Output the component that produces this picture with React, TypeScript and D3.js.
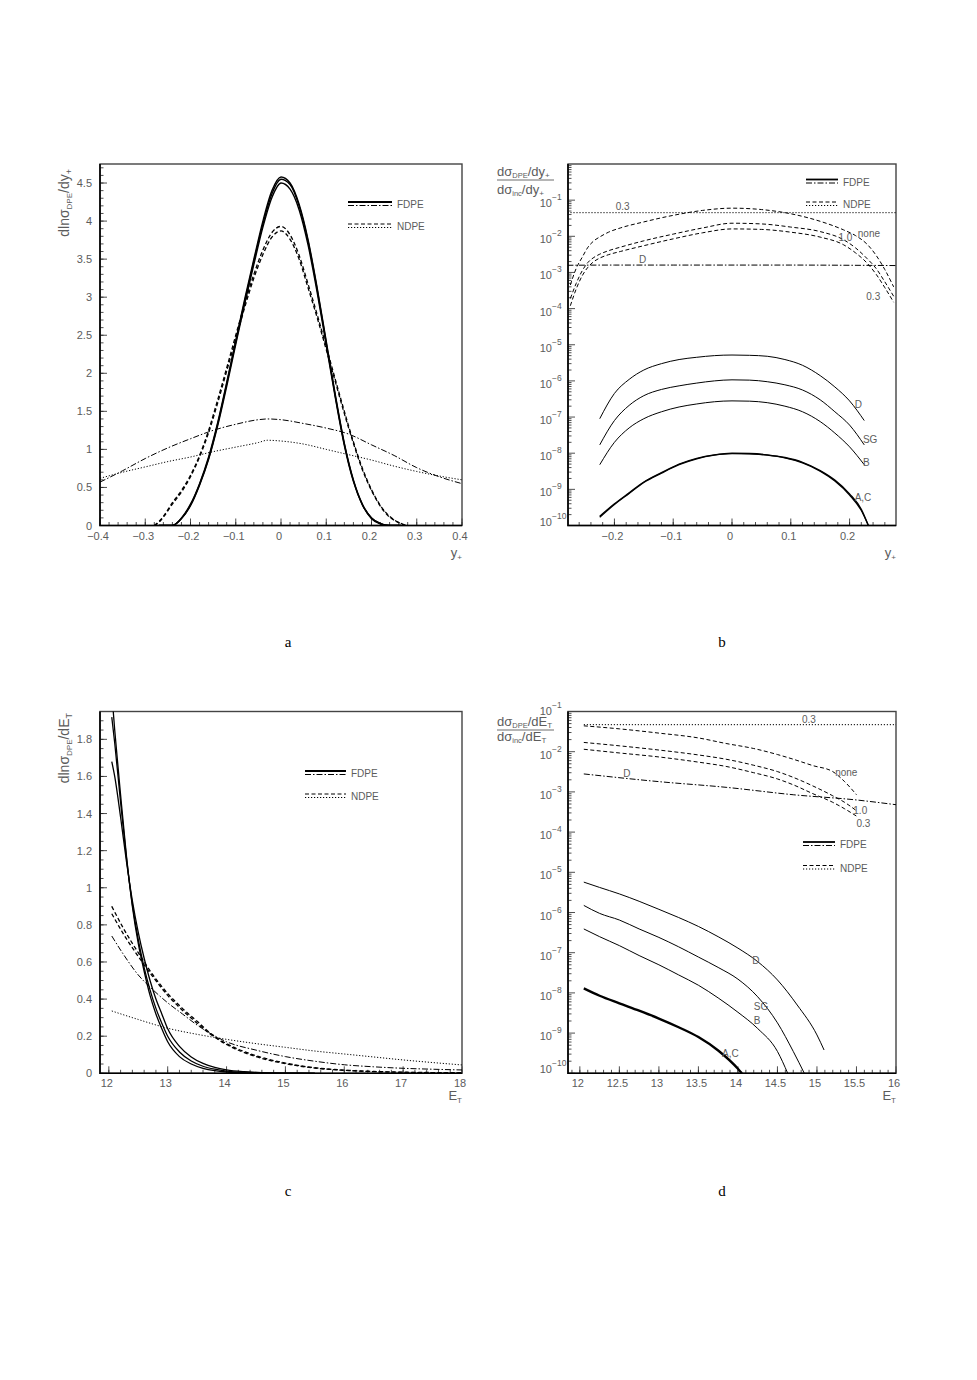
import * as d3 from "d3";
import { useEffect, useRef } from "react";

// ---------- panel a : dlnσ_DPE/dy+ against y+ ----------
const aXTicks = [-0.4, -0.3, -0.2, -0.1, 0, 0.1, 0.2, 0.3, 0.4];
const aYTicks = [0, 0.5, 1, 1.5, 2, 2.5, 3, 3.5, 4, 4.5];
const aSolidY = [-0.27, -0.24, -0.22, -0.2, -0.18, -0.16, -0.14, -0.12, -0.1, -0.08, -0.06, -0.04, -0.02, 0, 0.02, 0.04, 0.06, 0.08, 0.1, 0.12, 0.14, 0.16, 0.18, 0.2, 0.22, 0.24, 0.265];
const aFdpe1 = [0, 0, 0.1, 0.28, 0.55, 0.9, 1.35, 1.88, 2.43, 2.98, 3.5, 4.0, 4.4, 4.58, 4.5, 4.22, 3.75, 3.12, 2.42, 1.72, 1.08, 0.6, 0.28, 0.1, 0.025, 0, 0];
const aFdpe2 = [0, 0, 0.09, 0.27, 0.54, 0.88, 1.33, 1.86, 2.41, 2.95, 3.47, 3.96, 4.36, 4.55, 4.48, 4.2, 3.73, 3.1, 2.4, 1.7, 1.07, 0.59, 0.27, 0.1, 0.025, 0, 0];
const aFdpe3 = [0, 0, 0.09, 0.26, 0.53, 0.87, 1.31, 1.83, 2.38, 2.92, 3.43, 3.92, 4.31, 4.5, 4.42, 4.15, 3.68, 3.06, 2.37, 1.68, 1.05, 0.58, 0.27, 0.09, 0.02, 0, 0];
const aDashY = [-0.28, -0.27, -0.26, -0.24, -0.22, -0.2, -0.18, -0.16, -0.14, -0.12, -0.1, -0.08, -0.06, -0.04, -0.02, 0, 0.02, 0.04, 0.06, 0.08, 0.1, 0.12, 0.14, 0.16, 0.18, 0.2, 0.22, 0.24, 0.26, 0.27, 0.28];
const aNdpe1 = [0, 0.05, 0.12, 0.3, 0.46, 0.66, 0.92, 1.25, 1.65, 2.07, 2.5, 2.92, 3.3, 3.62, 3.85, 3.93, 3.82, 3.55, 3.17, 2.77, 2.35, 1.92, 1.5, 1.1, 0.75, 0.47, 0.26, 0.12, 0.04, 0.015, 0];
const aNdpe2 = [0, 0.04, 0.11, 0.28, 0.44, 0.64, 0.9, 1.22, 1.61, 2.03, 2.45, 2.87, 3.25, 3.56, 3.79, 3.87, 3.76, 3.5, 3.12, 2.73, 2.31, 1.89, 1.47, 1.08, 0.73, 0.46, 0.25, 0.11, 0.04, 0.01, 0];
const aBroadY = [-0.4, -0.35, -0.3, -0.25, -0.2, -0.15, -0.1, -0.05, -0.03, 0, 0.05, 0.1, 0.15, 0.2, 0.25, 0.3, 0.35, 0.4];
const aFdpeDD = [0.57, 0.72, 0.88, 1.02, 1.14, 1.25, 1.33, 1.39, 1.4, 1.39, 1.34, 1.28, 1.2, 1.06, 0.92, 0.76, 0.64, 0.55];
const aNdpeDot = [0.62, 0.7, 0.77, 0.84, 0.9, 0.97, 1.03, 1.09, 1.12, 1.11, 1.07, 1.0, 0.93, 0.86, 0.78, 0.71, 0.65, 0.6];

// ---------- panel b : ratio DPE / inclusive against y+ ----------
const bXTicks = [-0.2, -0.1, 0, 0.1, 0.2];
const bYExp = [-10, -9, -8, -7, -6, -5, -4, -3, -2, -1];
const bDashY = [-0.275, -0.265, -0.255, -0.245, -0.235, -0.225, -0.21, -0.19, -0.15, -0.1, -0.05, 0, 0.05, 0.1, 0.15, 0.19, 0.21, 0.23, 0.245, 0.26, 0.275];
const bNone = [4.5e-4, 1.3e-3, 2.6e-3, 5e-3, 7.5e-3, 9.6e-3, 1.3e-2, 1.7e-2, 2.5e-2, 3.8e-2, 5.2e-2, 6e-2, 5.5e-2, 4.2e-2, 2.6e-2, 1.5e-2, 1.05e-2, 6e-3, 3e-3, 1.2e-3, 4e-4];
const bOne = [1.9e-4, 5e-4, 1.1e-3, 1.9e-3, 2.6e-3, 3.2e-3, 4e-3, 5e-3, 7.5e-3, 1.15e-2, 1.7e-2, 2.3e-2, 2.2e-2, 1.8e-2, 1.35e-2, 8e-3, 4.8e-3, 2.4e-3, 1.3e-3, 5.5e-4, 2.2e-4];
const bThree = [1.2e-4, 3.5e-4, 8e-4, 1.4e-3, 2e-3, 2.5e-3, 3.1e-3, 3.8e-3, 5.5e-3, 8.5e-3, 1.25e-2, 1.6e-2, 1.55e-2, 1.3e-2, 9.5e-3, 5.8e-3, 3.5e-3, 1.8e-3, 9e-4, 3.8e-4, 1.5e-4];
const bFlatY = [-0.28, -0.2, -0.1, 0, 0.1, 0.2, 0.28];
const bDdD = [1.58e-3, 1.6e-3, 1.6e-3, 1.6e-3, 1.6e-3, 1.58e-3, 1.55e-3];
const bDot03 = [0.045, 0.045, 0.045, 0.045, 0.045, 0.045, 0.045];
const bSolidY = [-0.225, -0.2, -0.175, -0.15, -0.12, -0.09, -0.06, -0.03, 0, 0.03, 0.06, 0.09, 0.12, 0.15, 0.175, 0.2, 0.225];
const bD = [9e-8, 4.5e-7, 1.1e-6, 2e-6, 3e-6, 3.9e-6, 4.5e-6, 5e-6, 5.2e-6, 5.1e-6, 4.8e-6, 3.9e-6, 2.7e-6, 1.4e-6, 6.8e-7, 2.8e-7, 8e-8];
const bSG = [1.7e-8, 8e-8, 2.1e-7, 3.9e-7, 5.8e-7, 7.3e-7, 8.7e-7, 1e-6, 1.07e-6, 1.05e-6, 9.5e-7, 7.8e-7, 5.6e-7, 3e-7, 1.4e-7, 6e-8, 1.7e-8];
const bB = [4.8e-9, 2e-8, 5e-8, 9e-8, 1.4e-7, 1.9e-7, 2.3e-7, 2.65e-7, 2.8e-7, 2.75e-7, 2.5e-7, 2e-7, 1.4e-7, 7.5e-8, 3.6e-8, 1.5e-8, 4.8e-9];
const bAcY = [-0.225, -0.2, -0.175, -0.15, -0.12, -0.09, -0.06, -0.03, 0, 0.03, 0.06, 0.09, 0.12, 0.15, 0.175, 0.2, 0.22, 0.232];
const bA = [1.8e-10, 4e-10, 8e-10, 1.6e-9, 2.9e-9, 5e-9, 7.2e-9, 9e-9, 1e-8, 9.8e-9, 9e-9, 7.6e-9, 5.6e-9, 3.3e-9, 1.8e-9, 7.5e-10, 2.8e-10, 1e-10];
const bC = [1.7e-10, 3.8e-10, 7.7e-10, 1.55e-9, 2.8e-9, 4.8e-9, 7e-9, 8.8e-9, 9.7e-9, 9.6e-9, 8.8e-9, 7.4e-9, 5.4e-9, 3.2e-9, 1.7e-9, 7e-10, 2.6e-10, 1e-10];

// ---------- panel c : dlnσ_DPE/dE_T against E_T ----------
const cXTicks = [12, 13, 14, 15, 16, 17, 18];
const cYTicks = [0, 0.2, 0.4, 0.6, 0.8, 1, 1.2, 1.4, 1.6, 1.8];
const cSolidE = [12.05, 12.1, 12.2, 12.3, 12.4, 12.5, 12.6, 12.7, 12.8, 12.9, 13.0, 13.2, 13.4, 13.6, 13.8, 14.0, 14.3, 14.6, 15.0, 15.5];
const cFdpe1 = [2.05, 1.85, 1.5, 1.17, 0.9, 0.7, 0.55, 0.42, 0.32, 0.24, 0.17, 0.09, 0.05, 0.027, 0.014, 0.007, 0.003, 0.001, 0, 0];
const cFdpe2 = [1.92, 1.78, 1.46, 1.16, 0.91, 0.72, 0.57, 0.45, 0.35, 0.27, 0.2, 0.115, 0.066, 0.038, 0.022, 0.012, 0.005, 0.002, 0.0005, 0];
const cFdpe3 = [1.68, 1.6, 1.38, 1.14, 0.93, 0.76, 0.62, 0.5, 0.4, 0.32, 0.24, 0.145, 0.088, 0.053, 0.032, 0.019, 0.009, 0.004, 0.001, 0];
const cDashE = [12.05, 12.25, 12.5, 12.75, 13, 13.25, 13.5, 13.75, 14, 14.5, 15, 15.5, 16, 16.5, 17, 17.5, 18];
const cNdpe1 = [0.9, 0.78, 0.65, 0.53, 0.43, 0.35, 0.28, 0.21, 0.16, 0.095, 0.055, 0.03, 0.017, 0.01, 0.006, 0.004, 0.003];
const cNdpe2 = [0.86, 0.75, 0.63, 0.52, 0.42, 0.34, 0.27, 0.205, 0.155, 0.09, 0.052, 0.028, 0.016, 0.009, 0.005, 0.003, 0.002];
const cFdpeDD = [0.74, 0.64, 0.53, 0.45, 0.38, 0.32, 0.26, 0.21, 0.17, 0.125, 0.09, 0.065, 0.046, 0.035, 0.027, 0.022, 0.018];
const cDotE = [12.05, 12.5, 13, 13.5, 14, 14.5, 15, 15.5, 16, 16.5, 17, 17.5, 18];
const cNdpeDot = [0.336, 0.29, 0.243, 0.21, 0.183, 0.16, 0.14, 0.12, 0.104, 0.088, 0.072, 0.058, 0.045];

// ---------- panel d : ratio DPE / inclusive against E_T ----------
const dXTicks = [12, 12.5, 13, 13.5, 14, 14.5, 15, 15.5, 16];
const dYExp = [-10, -9, -8, -7, -6, -5, -4, -3, -2, -1];
const dDashE = [12.05, 12.5, 13, 13.5, 13.85, 14.2, 14.5, 14.7, 14.95, 15.2, 15.35, 15.5];
const dNone = [0.044, 0.037, 0.029, 0.022, 0.016, 0.012, 8.5e-3, 6.5e-3, 4.5e-3, 3.2e-3, 1.8e-3, 8.5e-4];
const dOne = [0.017, 0.014, 0.011, 8.3e-3, 6.5e-3, 4.6e-3, 3.2e-3, 2.3e-3, 1.4e-3, 8e-4, 5.5e-4, 3.4e-4];
const dThree = [0.0115, 9.3e-3, 7.4e-3, 5.5e-3, 4.3e-3, 3e-3, 2.1e-3, 1.5e-3, 9e-4, 5.5e-4, 3.8e-4, 2.5e-4];
const dFlatE = [12.05, 13, 13.85, 14.7, 15.5, 16];
const dDdD = [2.8e-3, 1.8e-3, 1.3e-3, 8.5e-4, 6.3e-4, 4.8e-4];
const dDot03 = [0.047, 0.047, 0.047, 0.047, 0.047, 0.047];
const dSolidE = [12.05, 12.25, 12.5, 12.75, 13, 13.25, 13.5, 13.75, 14, 14.25, 14.5, 14.75, 15, 15.09];
const dD = [5.7e-6, 4.2e-6, 2.9e-6, 1.9e-6, 1.2e-6, 7.5e-7, 4.5e-7, 2.5e-7, 1.3e-7, 6e-8, 2.1e-8, 5e-9, 9e-10, 3.8e-10];
const dSgE = [12.05, 12.25, 12.5, 12.75, 13, 13.25, 13.5, 13.75, 14, 14.25, 14.5, 14.7, 14.84];
const dSG = [1.5e-6, 9.5e-7, 6.5e-7, 3.9e-7, 2.4e-7, 1.4e-7, 7.8e-8, 4.3e-8, 2.2e-8, 8e-9, 1.8e-9, 3.5e-10, 1e-10];
const dBE = [12.05, 12.25, 12.5, 12.75, 13, 13.25, 13.5, 13.75, 14, 14.25, 14.5, 14.63];
const dB = [3.9e-7, 2.5e-7, 1.5e-7, 8.5e-8, 5e-8, 2.8e-8, 1.55e-8, 7.5e-9, 3.3e-9, 1.3e-9, 3.5e-10, 1e-10];
const dAcE = [12.05, 12.25, 12.5, 12.75, 13, 13.25, 13.5, 13.75, 14, 14.05];
const dAC = [1.3e-8, 8.5e-9, 5.5e-9, 3.6e-9, 2.3e-9, 1.4e-9, 8e-10, 3.7e-10, 1.3e-10, 1e-10];

const FONT = "'Liberation Sans', Arial, sans-serif";
const GREY = "#5c5c5c";
const DASH = { solid: null, dashed: "4 2.5", dashdot: "6 2 1.5 2", dotted: "1.2 1.8" };

const fmt = (v) => (v < 0 ? "\u2212" + Math.abs(v) : String(v));

function addCurve(g, clip, x, y, xs, ys, dash, w = 1) {
  const line = d3
    .line()
    .x((d, i) => x(xs[i]))
    .y((d) => y(d))
    .curve(d3.curveMonotoneX);
  g.append("path")
    .attr("d", line(ys))
    .attr("fill", "none")
    .attr("stroke", "#000")
    .attr("stroke-width", w)
    .attr("stroke-dasharray", dash)
    .attr("clip-path", `url(#${clip})`);
}

function addLabel(g, x, y, t, anchor = "start") {
  g.append("text")
    .attr("x", x)
    .attr("y", y)
    .attr("text-anchor", anchor)
    .attr("font-family", FONT)
    .attr("font-size", 10)
    .attr("fill", GREY)
    .text(t);
}

function frame(g, id, box, x, y, o) {
  const { left, top, right, bottom } = box;
  g.append("clipPath")
    .attr("id", id)
    .append("rect")
    .attr("x", left)
    .attr("y", top)
    .attr("width", right - left)
    .attr("height", bottom - top);

  const ticks = (vals, len, horiz) =>
    g
      .selectAll(null)
      .data(vals)
      .join("line")
      .attr("x1", (d) => (horiz ? x(d) : left))
      .attr("x2", (d) => (horiz ? x(d) : left + len))
      .attr("y1", (d) => (horiz ? bottom : y(d)))
      .attr("y2", (d) => (horiz ? bottom - len : y(d)))
      .attr("stroke", "#222")
      .attr("stroke-width", 0.8);

  ticks(o.xMinor, 3.5, true);
  ticks(o.xMajor, 7, true);
  ticks(o.yMinor, 3.5, false);
  ticks(o.yMajor.map((e) => (o.log ? Math.pow(10, e) : e)), 7, false);

  g.append("rect")
    .attr("x", left)
    .attr("y", top)
    .attr("width", right - left)
    .attr("height", bottom - top)
    .attr("fill", "none")
    .attr("stroke", "#444")
    .attr("stroke-width", 1.4);
  g.append("path")
    .attr("d", `M${left},${top}V${bottom}H${right}`)
    .attr("fill", "none")
    .attr("stroke", "#000")
    .attr("stroke-width", 1.6);

  g.selectAll(null)
    .data(o.xMajor)
    .join("text")
    .attr("x", (d) => x(d) - 2)
    .attr("y", bottom + 14)
    .attr("text-anchor", "middle")
    .attr("font-family", FONT)
    .attr("font-size", 11)
    .attr("fill", GREY)
    .text(fmt);

  if (o.log) {
    const n = o.yMajor.length;
    o.yMajor.forEach((e, i) => {
      let yy = y(Math.pow(10, e));
      if (i === 0) yy -= 7;
      if (i === n - 1 && o.topShift) yy -= o.topShift;
      g.append("text")
        .attr("x", left - 16)
        .attr("y", yy + 7)
        .attr("text-anchor", "end")
        .attr("font-family", FONT)
        .attr("font-size", 11)
        .attr("fill", GREY)
        .text("10");
      g.append("text")
        .attr("x", left - 16)
        .attr("y", yy)
        .attr("font-family", FONT)
        .attr("font-size", 8.5)
        .attr("fill", GREY)
        .text("\u2212" + Math.abs(e));
    });
  } else {
    g.selectAll(null)
      .data(o.yMajor)
      .join("text")
      .attr("x", left - 8)
      .attr("y", (d) => y(d) + 4)
      .attr("text-anchor", "end")
      .attr("font-family", FONT)
      .attr("font-size", 11)
      .attr("fill", GREY)
      .text(fmt);
  }
}

function legend(g, x0, x1, yTop, gap) {
  const pair = (yy, d1, w1, d2) => {
    g.append("line").attr("x1", x0).attr("x2", x1).attr("y1", yy).attr("y2", yy)
      .attr("stroke", "#000").attr("stroke-width", w1).attr("stroke-dasharray", d1);
    g.append("line").attr("x1", x0).attr("x2", x1).attr("y1", yy + 3.5).attr("y2", yy + 3.5)
      .attr("stroke", "#000").attr("stroke-width", 1).attr("stroke-dasharray", d2);
  };
  pair(yTop, DASH.solid, 1.8, DASH.dashdot);
  pair(yTop + gap, DASH.dashed, 1, DASH.dotted);
  addLabel(g, x1 + 5, yTop + 6, "FDPE");
  addLabel(g, x1 + 5, yTop + gap + 6, "NDPE");
}

function titleY(g, cx, yEnd, sub1, var2, sub2) {
  const t = g
    .append("text")
    .attr("transform", `translate(${cx},${yEnd}) rotate(-90)`)
    .attr("text-anchor", "end")
    .attr("font-family", FONT)
    .attr("font-size", 14)
    .attr("fill", GREY);
  t.append("tspan").text("dln\u03c3");
  t.append("tspan").attr("font-size", 8).attr("dy", 3).text(sub1);
  t.append("tspan").attr("dy", -3).text("/d" + var2);
  t.append("tspan").attr("font-size", 9).attr("dy", 3).text(sub2);
}

function fraction(g, x0, yNum, gap, var2, sub2) {
  const part = (yy, s1) => {
    const t = g.append("text").attr("x", x0).attr("y", yy)
      .attr("font-family", FONT).attr("font-size", 13).attr("fill", GREY);
    t.append("tspan").text("d\u03c3");
    t.append("tspan").attr("font-size", 7.5).attr("dy", 2).text(s1);
    t.append("tspan").attr("dy", -2).text("/d" + var2);
    t.append("tspan").attr("font-size", 8).attr("dy", 2).text(sub2);
  };
  part(yNum, "DPE");
  g.append("line").attr("x1", x0).attr("x2", x0 + 57).attr("y1", yNum + 4).attr("y2", yNum + 4)
    .attr("stroke", GREY).attr("stroke-width", 0.9);
  part(yNum + gap, "inc");
}

function titleX(g, xEnd, yy, main, sub) {
  const t = g.append("text").attr("x", xEnd).attr("y", yy).attr("text-anchor", "end")
    .attr("font-family", FONT).attr("font-size", 13).attr("fill", GREY);
  t.append("tspan").text(main);
  t.append("tspan").attr("font-size", 8).attr("dy", 3).text(sub);
}

function minor(lo, hi, step) {
  return d3.range(Math.round(lo / step), Math.round(hi / step) + 1).map((k) => +(k * step).toFixed(6));
}

function logMinor(e0, e1) {
  const out = [];
  for (let e = e0; e < e1; e++) for (let m = 2; m <= 9; m++) out.push(m * Math.pow(10, e));
  return out;
}

export default function App() {
  const ref = useRef(null);

  useEffect(() => {
    const svg = d3.select(ref.current);
    svg.selectAll("*").remove();

    // ----- a -----
    const boxA = { left: 100, top: 164, right: 462, bottom: 525.5 };
    const xa = d3.scaleLinear().domain([-0.4, 0.4]).range([boxA.left, boxA.right]);
    const ya = d3.scaleLinear().domain([0, 4.75]).range([boxA.bottom, boxA.top]);
    const ga = svg.append("g");
    frame(ga, "clipA", boxA, xa, ya, {
      xMajor: aXTicks, xMinor: minor(-0.4, 0.4, 0.02),
      yMajor: aYTicks, yMinor: minor(0, 4.7, 0.1),
    });
    addCurve(ga, "clipA", xa, ya, aBroadY, aNdpeDot, DASH.dotted);
    addCurve(ga, "clipA", xa, ya, aBroadY, aFdpeDD, DASH.dashdot);
    addCurve(ga, "clipA", xa, ya, aDashY, aNdpe1, DASH.dashed, 1.3);
    addCurve(ga, "clipA", xa, ya, aDashY, aNdpe2, DASH.dashed, 1.3);
    addCurve(ga, "clipA", xa, ya, aSolidY, aFdpe1, DASH.solid, 1.4);
    addCurve(ga, "clipA", xa, ya, aSolidY, aFdpe2, DASH.solid, 1.4);
    addCurve(ga, "clipA", xa, ya, aSolidY, aFdpe3, DASH.solid, 1.4);
    legend(ga, 348, 392, 202, 22);
    titleY(ga, 69, 169, "DPE", "y", "+");
    titleX(ga, 462, 557, "y", "+");

    // ----- b -----
    const boxB = { left: 568, top: 164, right: 896, bottom: 525.5 };
    const xb = d3.scaleLinear().domain([-0.279, 0.279]).range([boxB.left, boxB.right]);
    const yb = d3.scaleLog().domain([1e-10, 1]).range([boxB.bottom, boxB.top]);
    const gb = svg.append("g");
    frame(gb, "clipB", boxB, xb, yb, {
      xMajor: bXTicks, xMinor: minor(-0.26, 0.26, 0.02),
      yMajor: bYExp, yMinor: logMinor(-10, 0), log: true,
    });
    addCurve(gb, "clipB", xb, yb, bFlatY, bDot03, DASH.dotted);
    addCurve(gb, "clipB", xb, yb, bFlatY, bDdD, DASH.dashdot);
    addCurve(gb, "clipB", xb, yb, bDashY, bNone, DASH.dashed);
    addCurve(gb, "clipB", xb, yb, bDashY, bOne, DASH.dashed);
    addCurve(gb, "clipB", xb, yb, bDashY, bThree, DASH.dashed);
    addCurve(gb, "clipB", xb, yb, bSolidY, bD, DASH.solid);
    addCurve(gb, "clipB", xb, yb, bSolidY, bSG, DASH.solid);
    addCurve(gb, "clipB", xb, yb, bSolidY, bB, DASH.solid);
    addCurve(gb, "clipB", xb, yb, bAcY, bA, DASH.solid, 1.3);
    addCurve(gb, "clipB", xb, yb, bAcY, bC, DASH.solid, 1.3);
    addLabel(gb, xb(-0.186), yb(0.053), "0.3", "middle");
    addLabel(gb, xb(-0.152), yb(1.8e-3), "D", "middle");
    addLabel(gb, xb(0.214), yb(9.6e-3), "none");
    addLabel(gb, xb(0.181), yb(7.4e-3), "1.0");
    addLabel(gb, xb(0.2285), yb(1.74e-4), "0.3");
    addLabel(gb, xb(0.2087), yb(1.8e-7), "D");
    addLabel(gb, xb(0.2228), yb(1.9e-8), "SG");
    addLabel(gb, xb(0.2228), yb(4.5e-9), "B");
    addLabel(gb, xb(0.2087), yb(4.8e-10), "A,C");
    legend(gb, 806, 838, 179.5, 22.5);
    fraction(gb, 497, 176, 18, "y", "+");
    titleX(gb, 896, 557, "y", "+");

    // ----- c -----
    const boxC = { left: 100, top: 711.5, right: 462, bottom: 1073.3 };
    const xc = d3.scaleLinear().domain([11.85, 18]).range([boxC.left, boxC.right]);
    const yc = d3.scaleLinear().domain([0, 1.95]).range([boxC.bottom, boxC.top]);
    const gc = svg.append("g");
    frame(gc, "clipC", boxC, xc, yc, {
      xMajor: cXTicks, xMinor: minor(12, 18, 0.2),
      yMajor: cYTicks, yMinor: minor(0, 1.95, 0.05),
    });
    addCurve(gc, "clipC", xc, yc, cDotE, cNdpeDot, DASH.dotted);
    addCurve(gc, "clipC", xc, yc, cDashE, cFdpeDD, DASH.dashdot);
    addCurve(gc, "clipC", xc, yc, cDashE, cNdpe1, DASH.dashed, 1.3);
    addCurve(gc, "clipC", xc, yc, cDashE, cNdpe2, DASH.dashed, 1.3);
    addCurve(gc, "clipC", xc, yc, cSolidE, cFdpe1, DASH.solid, 1.3);
    addCurve(gc, "clipC", xc, yc, cSolidE, cFdpe2, DASH.solid, 1.3);
    addCurve(gc, "clipC", xc, yc, cSolidE, cFdpe3, DASH.solid, 1.3);
    legend(gc, 305, 346, 771, 23);
    titleY(gc, 69, 713, "DPE", "E", "T");
    titleX(gc, 462, 1100, "E", "T");

    // ----- d -----
    const boxD = { left: 568, top: 711.5, right: 896, bottom: 1073.3 };
    const xd = d3.scaleLinear().domain([11.85, 16]).range([boxD.left, boxD.right]);
    const yd = d3.scaleLog().domain([1e-10, 1e-1]).range([boxD.bottom, boxD.top]);
    const gd = svg.append("g");
    frame(gd, "clipD", boxD, xd, yd, {
      xMajor: dXTicks, xMinor: minor(11.9, 16, 0.1),
      yMajor: dYExp, yMinor: logMinor(-10, -1), log: true, topShift: 4,
    });
    addCurve(gd, "clipD", xd, yd, dFlatE, dDot03, DASH.dotted);
    addCurve(gd, "clipD", xd, yd, dFlatE, dDdD, DASH.dashdot);
    addCurve(gd, "clipD", xd, yd, dDashE, dNone, DASH.dashed);
    addCurve(gd, "clipD", xd, yd, dDashE, dOne, DASH.dashed);
    addCurve(gd, "clipD", xd, yd, dDashE, dThree, DASH.dashed);
    addCurve(gd, "clipD", xd, yd, dSolidE, dD, DASH.solid);
    addCurve(gd, "clipD", xd, yd, dSgE, dSG, DASH.solid);
    addCurve(gd, "clipD", xd, yd, dBE, dB, DASH.solid);
    addCurve(gd, "clipD", xd, yd, dAcE, dAC, DASH.solid, 2.4);
    addLabel(gd, xd(14.81), yd(0.052), "0.3");
    addLabel(gd, xd(12.55), yd(2.4e-3), "D");
    addLabel(gd, xd(15.23), yd(2.5e-3), "none");
    addLabel(gd, xd(15.46), yd(2.9e-4), "1.0");
    addLabel(gd, xd(15.5), yd(1.35e-4), "0.3");
    addLabel(gd, xd(14.18), yd(5.2e-8), "D");
    addLabel(gd, xd(14.2), yd(3.8e-9), "SG");
    addLabel(gd, xd(14.2), yd(1.7e-9), "B");
    addLabel(gd, xd(13.8), yd(2.6e-10), "A,C");
    legend(gd, 803, 835, 842, 23.5);
    fraction(gd, 497, 726, 15, "E", "T");
    titleX(gd, 896, 1100, "E", "T");

    // panel letters
    [["a", 288, 647], ["b", 722, 647], ["c", 288, 1196], ["d", 722, 1196]].forEach(([t, x, y]) => {
      svg.append("text")
        .attr("x", x).attr("y", y).attr("text-anchor", "middle")
        .attr("font-family", "'Liberation Serif', 'DejaVu Serif', serif")
        .attr("font-size", 15).attr("fill", "#000").text(t);
    });
  }, []);

  return (
    <svg
      ref={ref}
      width={977}
      height={1380}
      style={{ position: "absolute", left: 0, top: 0, background: "#fff" }}
    />
  );
}
